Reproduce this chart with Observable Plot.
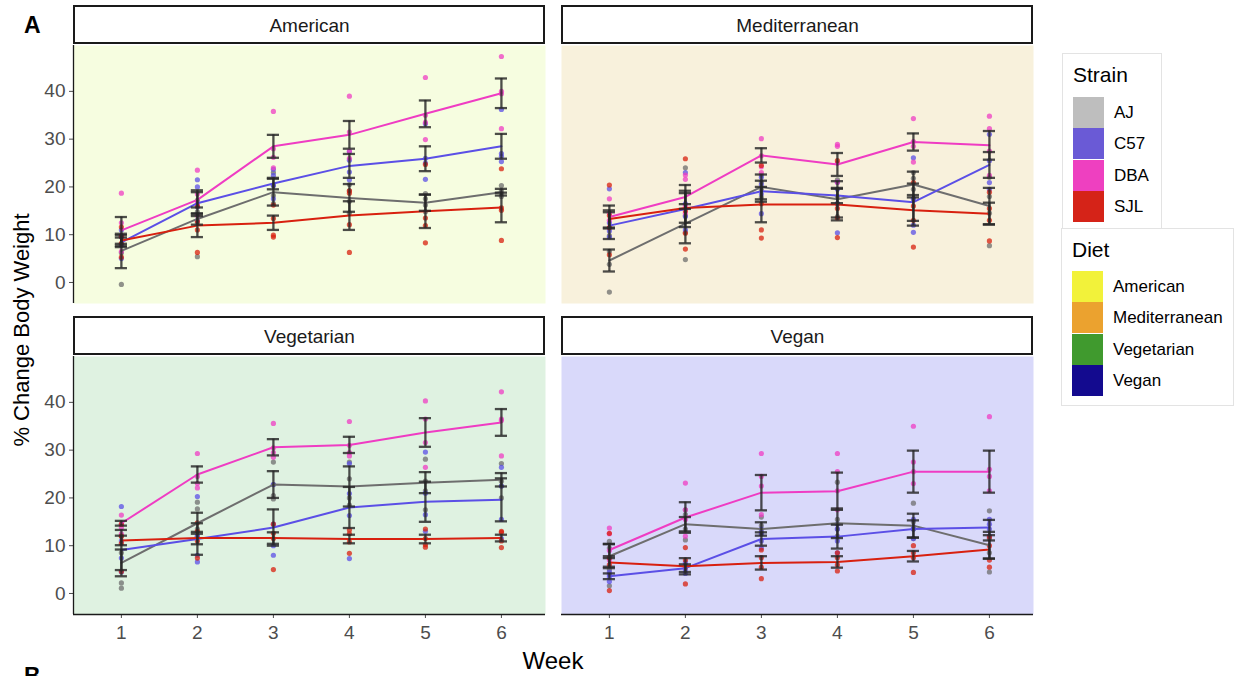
<!DOCTYPE html>
<html>
<head>
<meta charset="utf-8">
<script src="https://cdn.jsdelivr.net/npm/d3@7"></script>
<script src="https://cdn.jsdelivr.net/npm/@observablehq/plot@0.6"></script>
<style>
  body { margin: 0; background: #fff; font-family: "Liberation Sans", Arial, sans-serif; }
  #wrap { position: relative; width: 1238px; height: 676px; overflow: hidden; background: #fff; }
  .pnl { position: absolute; }
  .abs { position: absolute; white-space: nowrap; color: #000; }
  .lgbox { position: absolute; border: 1px solid #e3e3e3; background: #fff; box-sizing: border-box; }
  .sw { position: absolute; width: 31px; height: 31px; }
  .lgl { position: absolute; font-size: 17px; line-height: 31px; color: #000; }
  .lgt { position: absolute; font-size: 21px; color: #000; }
</style>
</head>
<body>
<div id="wrap"></div>
<script>
// ---------- data ----------
const WEEKS = [1, 2, 3, 4, 5, 6];
const STRAINS = ["AJ", "C57", "DBA", "SJL"];
const DIETS = ["American", "Mediterranean", "Vegetarian", "Vegan"];
const Y_TICKS = [0, 10, 20, 30, 40];
const STRAIN_COLORS = ["#6e6e6e", "#5b4fe6", "#ef3cc3", "#d8200f"];
const STRAIN_SWATCH = ["#bebebe", "#6a5ad6", "#ee40c0", "#d52318"];
const DIET_SWATCH = ["#f2f23a", "#eba22f", "#409a2e", "#130a8f"];
const DIET_BG = ["#f6fde0", "#f8f1dc", "#dff2e1", "#d9d9fa"];

// rows: AJ, C57, DBA, SJL ; columns: weeks 1..6
const AMERICAN_MEAN = [
  [6.6, 13.3, 18.9, 17.7, 16.7, 18.9],
  [8.4, 16.6, 20.7, 24.4, 25.9, 28.5],
  [10.9, 17.3, 28.5, 30.9, 35.3, 39.6],
  [8.8, 11.9, 12.5, 14.0, 14.9, 15.7]
];
const AMERICAN_ERR = [
  [3.6, 1.2, 2.8, 2.9, 1.7, 0.7],
  [1.0, 2.7, 1.2, 2.5, 2.6, 2.6],
  [2.8, 1.6, 2.4, 2.9, 2.8, 3.1],
  [1.1, 2.4, 1.5, 3.0, 3.5, 3.1]
];
const AMERICAN_PTS = [
  [[-0.4, 6.2, 8.1, 9.5], [5.4, 12.5, 14.8, 17.2], [16.5, 18.2, 20.3, 23.0], [14.5, 17.0, 19.2, 20.5], [14.8, 16.2, 17.5, 18.6], [18.0, 18.6, 19.2, 20.3]],
  [[5.0, 7.8, 9.6, 11.0], [13.0, 15.8, 20.0, 21.5], [17.5, 20.3, 22.4, 23.7], [21.5, 23.1, 25.6, 27.4], [21.6, 25.0, 26.0, 33.2], [25.3, 26.4, 27.0, 36.2]],
  [[6.5, 9.8, 12.5, 18.7], [14.0, 16.5, 18.5, 23.5], [24.0, 26.2, 28.0, 35.8], [26.0, 27.5, 31.5, 39.0], [29.9, 33.5, 35.0, 42.9], [32.2, 39.5, 40.0, 47.3]],
  [[5.3, 8.2, 9.6, 11.6], [6.3, 11.0, 12.8, 16.0], [9.5, 9.9, 13.4, 16.2], [6.3, 12.1, 18.7, 19.2], [8.3, 11.9, 13.5, 24.7], [8.8, 15.1, 15.6, 23.8]]
];

const MEDITERRANEAN_MEAN = [
  [4.6, 12.3, 20.0, 17.4, 20.5, 16.0],
  [11.9, 15.4, 19.1, 18.2, 16.8, 24.6],
  [13.7, 17.9, 26.6, 24.7, 29.4, 28.7],
  [13.3, 15.6, 16.3, 16.3, 15.1, 14.4]
];
const MEDITERRANEAN_ERR = [
  [2.3, 4.1, 2.6, 3.8, 2.7, 3.8],
  [2.8, 3.8, 2.2, 1.6, 3.9, 2.7],
  [2.4, 2.5, 1.5, 2.4, 1.8, 3.0],
  [1.8, 3.1, 3.7, 3.3, 3.2, 2.3]
];
const MEDITERRANEAN_PTS = [
  [[-2.0, 3.8, 6.5, 9.8], [4.8, 10.5, 14.0, 24.0], [17.8, 19.5, 21.0, 22.5], [13.8, 16.5, 18.0, 21.5], [17.5, 19.5, 21.8, 23.0], [7.7, 14.5, 18.0, 22.0]],
  [[9.5, 10.8, 12.5, 19.6], [11.0, 13.8, 16.5, 23.0], [14.4, 18.5, 20.5, 22.0], [10.4, 16.5, 19.5, 21.0], [10.5, 12.0, 17.5, 26.1], [19.5, 20.9, 25.5, 31.0]],
  [[11.5, 13.0, 14.5, 17.5], [14.5, 16.0, 21.6, 22.5], [23.0, 24.2, 26.5, 30.1], [21.0, 25.0, 28.5, 28.9], [25.2, 28.5, 29.5, 34.3], [22.4, 27.5, 32.2, 34.8]],
  [[5.8, 11.5, 14.0, 20.4], [7.0, 10.3, 15.0, 25.9], [9.3, 11.0, 16.5, 24.5], [9.4, 13.5, 15.5, 25.5], [7.4, 13.0, 16.0, 20.9], [8.7, 13.0, 15.5, 18.9]]
];

const VEGETARIAN_MEAN = [
  [6.4, 14.7, 22.8, 22.4, 23.2, 23.8],
  [9.1, 11.4, 13.8, 18.0, 19.2, 19.6],
  [14.7, 24.9, 30.6, 31.1, 33.7, 35.8],
  [11.1, 11.6, 11.6, 11.4, 11.4, 11.6]
];
const VEGETARIAN_ERR = [
  [2.8, 2.2, 2.8, 4.2, 2.2, 1.4],
  [4.2, 3.3, 3.8, 4.3, 4.2, 4.5],
  [0.5, 1.7, 1.7, 1.7, 3.0, 2.8],
  [1.0, 1.3, 1.2, 0.9, 0.9, 0.7]
];
const VEGETARIAN_PTS = [
  [[1.1, 2.2, 8.5, 12.0], [12.0, 13.5, 17.7, 19.1], [19.8, 20.5, 22.8, 27.5], [18.5, 20.0, 24.0, 27.5], [17.5, 21.5, 23.5, 28.1], [20.0, 22.5, 23.5, 27.2]],
  [[4.5, 7.4, 11.0, 18.2], [6.6, 8.0, 12.0, 20.3], [8.0, 10.0, 14.5, 22.8], [7.3, 16.3, 20.9, 27.2], [13.0, 16.5, 21.0, 29.6], [11.5, 15.5, 22.5, 26.4]],
  [[12.5, 13.8, 14.5, 16.4], [22.1, 23.0, 24.5, 29.3], [28.5, 29.5, 30.5, 35.6], [28.8, 29.5, 31.0, 36.0], [26.4, 31.6, 36.5, 40.3], [28.8, 36.2, 36.5, 42.2]],
  [[4.6, 10.5, 12.0, 14.5], [7.4, 11.0, 13.0, 14.8], [5.0, 11.5, 12.6, 14.5], [8.4, 10.8, 12.5, 13.3], [9.7, 10.2, 11.5, 13.5], [9.6, 11.0, 12.8, 13.0]]
];

const VEGAN_MEAN = [
  [7.8, 14.5, 13.5, 14.7, 14.2, 10.1],
  [3.6, 5.3, 11.4, 11.9, 13.5, 13.8],
  [9.1, 15.9, 21.1, 21.4, 25.5, 25.5],
  [6.5, 5.7, 6.4, 6.6, 7.8, 9.2]
];
const VEGAN_ERR = [
  [2.5, 1.5, 1.4, 3.1, 2.5, 2.8],
  [0.6, 0.8, 1.4, 2.5, 1.8, 1.6],
  [1.3, 3.2, 3.7, 3.9, 4.4, 4.4],
  [0.9, 1.7, 1.4, 1.2, 1.1, 1.9]
];
const VEGAN_PTS = [
  [[1.6, 5.0, 9.5, 10.9], [11.2, 13.5, 16.5, 17.5], [12.5, 13.0, 14.2, 16.0], [12.0, 13.5, 15.5, 23.3], [11.5, 13.5, 15.0, 18.9], [4.5, 8.5, 11.5, 17.3]],
  [[2.5, 3.5, 4.0, 4.5], [4.2, 5.0, 6.0, 6.5], [9.5, 11.0, 12.5, 13.5], [8.5, 11.0, 13.5, 14.5], [11.5, 13.5, 14.0, 15.5], [12.0, 13.5, 14.5, 15.5]],
  [[7.0, 9.0, 12.5, 13.7], [12.0, 15.5, 17.5, 23.1], [16.5, 22.5, 24.5, 29.3], [17.5, 21.5, 25.5, 29.3], [23.0, 25.5, 27.5, 35.0], [21.5, 24.5, 26.0, 37.0]],
  [[0.6, 6.0, 7.5, 12.6], [2.0, 5.5, 7.0, 9.6], [3.1, 5.5, 7.5, 9.1], [4.7, 6.0, 7.5, 8.5], [4.4, 7.5, 8.5, 10.0], [5.5, 7.0, 10.0, 11.8]]
];

const X_DOMAIN = [0.37, 6.58];
const Y_DOMAIN = [-4.4, 49.6];

// ---------- build tidy tables ----------
const SOURCES = {
  American: [AMERICAN_MEAN, AMERICAN_ERR, AMERICAN_PTS],
  Mediterranean: [MEDITERRANEAN_MEAN, MEDITERRANEAN_ERR, MEDITERRANEAN_PTS],
  Vegetarian: [VEGETARIAN_MEAN, VEGETARIAN_ERR, VEGETARIAN_PTS],
  Vegan: [VEGAN_MEAN, VEGAN_ERR, VEGAN_PTS]
};
function tables(diet) {
  const [M, E, P] = SOURCES[diet];
  const summary = [], points = [];
  STRAINS.forEach((s, i) => {
    WEEKS.forEach((w, j) => {
      summary.push({strain: s, week: w, mean: M[i][j], lo: M[i][j] - E[i][j], hi: M[i][j] + E[i][j]});
      P[i][j].forEach(v => points.push({strain: s, week: w, value: v}));
    });
  });
  return {summary, points};
}

const CAP = 0.08;
const wrap = document.getElementById("wrap");

function panel(diet, idx, left, bottom) {
  const {summary, points} = tables(diet);
  const marks = [
    Plot.frame({fill: DIET_BG[idx], stroke: null}),
    (index, scales, values, dim) => {
      const r = d3.create("svg:rect")
        .attr("x", dim.marginLeft + 1)
        .attr("y", 6)
        .attr("width", dim.width - dim.marginLeft - dim.marginRight - 2)
        .attr("height", 37)
        .attr("fill", "#fff")
        .attr("stroke", "#1a1a1a")
        .attr("stroke-width", 2);
      return r.node();
    },
    Plot.text([diet], {frameAnchor: "top", lineAnchor: "middle", dy: -20, text: d => d, fontSize: 19, fill: "#1a1a1a"})
  ];
  if (left) {
    marks.push(Plot.axisY(Y_TICKS, {tickSize: 4, tickPadding: 4, fontSize: 19, color: "#4d4d4d", label: null}));
    marks.push(Plot.ruleX([X_DOMAIN[0]], {stroke: "#1a1a1a", strokeWidth: 1.3}));
  }
  if (bottom) {
    marks.push(Plot.axisX(WEEKS, {tickSize: 4, tickPadding: 7, fontSize: 19, color: "#4d4d4d", label: null}));
    marks.push(Plot.ruleY([Y_DOMAIN[0]], {stroke: "#1a1a1a", strokeWidth: 1.3}));
  }
  marks.push(
    Plot.dot(points, {x: "week", y: "value", fill: "strain", r: 2.6, fillOpacity: 0.75}),
    Plot.line(summary, {x: "week", y: "mean", stroke: "strain", z: "strain", strokeWidth: 2}),
    Plot.ruleX(summary, {x: "week", y1: "lo", y2: "hi", stroke: "#262626", strokeOpacity: 0.82, strokeWidth: 2.3}),
    Plot.ruleY(summary, {y: "lo", x1: d => d.week - CAP, x2: d => d.week + CAP, stroke: "#262626", strokeOpacity: 0.82, strokeWidth: 2.3}),
    Plot.ruleY(summary, {y: "hi", x1: d => d.week - CAP, x2: d => d.week + CAP, stroke: "#262626", strokeOpacity: 0.82, strokeWidth: 2.3})
  );
  const mLeft = left ? 73 : 0;
  const mBottom = bottom ? 42 : 0;
  const chart = Plot.plot({
    width: mLeft + 472,
    height: 45 + 258 + mBottom,
    marginLeft: mLeft,
    marginRight: 0,
    marginTop: 45,
    marginBottom: mBottom,
    x: bottom ? {domain: X_DOMAIN} : {domain: X_DOMAIN, axis: null},
    y: left ? {domain: Y_DOMAIN} : {domain: Y_DOMAIN, axis: null},
    color: {domain: STRAINS, range: STRAIN_COLORS},
    style: {background: "transparent", fontFamily: "Liberation Sans, Arial, sans-serif", fontSize: "16px", overflow: "visible"},
    marks
  });
  chart.classList.add("pnl");
  chart.style.left = (left ? 0 : 561) + "px";
  chart.style.top = (bottom ? 311 : 0) + "px";
  chart.style.maxWidth = "none";
  wrap.appendChild(chart);
}

panel("American", 0, true, false);
panel("Mediterranean", 1, false, false);
panel("Vegetarian", 2, true, true);
panel("Vegan", 3, false, true);

// ---------- text & legends ----------
function addText(txt, css) {
  const d = document.createElement("div");
  d.className = "abs";
  d.textContent = txt;
  Object.assign(d.style, css);
  wrap.appendChild(d);
  return d;
}
addText("A", {left: "24px", top: "12px", fontSize: "23px", fontWeight: "bold"});
addText("B", {left: "24px", top: "663px", fontSize: "23px", fontWeight: "bold"});
addText("Week", {left: "553px", top: "661px", fontSize: "24px", transform: "translate(-50%, -50%)"});
addText("% Change Body Weight", {left: "22px", top: "330px", fontSize: "22px", transform: "translate(-50%, -50%) rotate(-90deg)"});

function legend(title, labels, colors, box) {
  const b = document.createElement("div");
  b.className = "lgbox";
  Object.assign(b.style, {left: box.left + "px", top: box.top + "px", width: box.width + "px", height: box.height + "px"});
  wrap.appendChild(b);
  const t = document.createElement("div");
  t.className = "lgt";
  t.textContent = title;
  Object.assign(t.style, {left: "10px", top: "9px"});
  b.appendChild(t);
  labels.forEach((lab, i) => {
    const s = document.createElement("div");
    s.className = "sw";
    Object.assign(s.style, {left: box.swx + "px", top: (box.sy + i * 31.3) + "px", background: colors[i]});
    b.appendChild(s);
    const l = document.createElement("div");
    l.className = "lgl";
    l.textContent = lab;
    Object.assign(l.style, {left: (box.swx + 41) + "px", top: (box.sy + i * 31.3) + "px"});
    b.appendChild(l);
  });
}
legend("Strain", STRAINS, STRAIN_SWATCH, {left: 1062, top: 53, width: 100, height: 176, swx: 10, sy: 43});
legend("Diet", DIETS, DIET_SWATCH, {left: 1061, top: 228, width: 173, height: 178, swx: 10, sy: 42});
</script>
</body>
</html>
